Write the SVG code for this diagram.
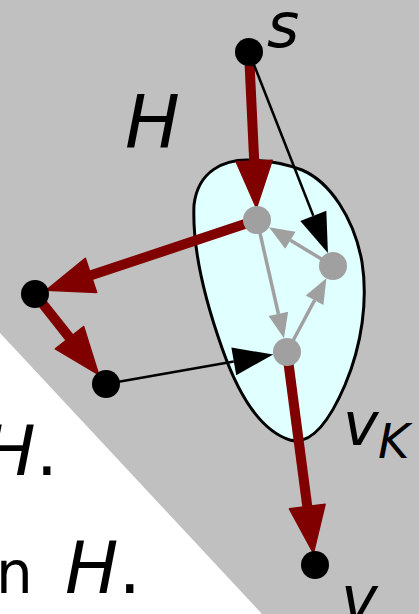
<svg xmlns="http://www.w3.org/2000/svg" width="419" height="614" viewBox="0 0 419 614">
<defs>
<style>
.lbl{font-family:"DejaVu Sans","Liberation Sans",sans-serif;fill:#000}
.it{font-style:oblique}
.red{stroke:#800000;stroke-width:10;fill:none}
.blk{stroke:#000;stroke-width:2.5;fill:none}
.gry{stroke:#a0a0a0;stroke-width:3.5;fill:none}
.node{fill:#000}
.gnode{fill:#a0a0a0}
</style>
<marker id="ar" markerUnits="userSpaceOnUse" markerWidth="50" markerHeight="40" refX="0" refY="18" orient="auto" overflow="visible">
<path d="M0,0 L47,18 L0,36 Z" fill="#800000" stroke="#800000" stroke-width="1.5" stroke-linejoin="round"/>
</marker>
<marker id="ab" markerUnits="userSpaceOnUse" markerWidth="42" markerHeight="30" refX="0" refY="14" orient="auto" overflow="visible">
<path d="M0,0 L40,14 L0,28 Z" fill="#000"/>
</marker>
<marker id="ag" markerUnits="userSpaceOnUse" markerWidth="27" markerHeight="22" refX="0" refY="10" orient="auto" overflow="visible">
<path d="M0,0 L25,10 L0,20 Z" fill="#a0a0a0"/>
</marker>
</defs>
<rect x="0" y="0" width="419" height="614" fill="#c0c0c0"/>
<polygon points="0,333 262,614 0,614" fill="#ffffff"/>
<g id="blob">
<path d="M247,160 C225,160 198,170 194,205 C192,250 205,300 222,348 C236,388 258,430 290,440 C312,446 330,420 345,385 C362,345 368,300 362,262 C354,218 330,182 302,170 C284,163 262,160 247,160 Z" fill="#e0ffff" stroke="#000" stroke-width="3"/>
</g>
<g id="connectors">
<line class="red" x1="249" y1="52" x2="254.2" y2="161" marker-end="url(#ar)"/>
<line class="red" x1="257" y1="220" x2="91" y2="275.3" marker-end="url(#ar)"/>
<line class="red" x1="35" y1="294" x2="69.5" y2="337.7" marker-end="url(#ar)"/>
<line class="red" x1="287" y1="352" x2="307.3" y2="506.5" marker-end="url(#ar)"/>
<line class="blk" x1="249" y1="52" x2="313.3" y2="215.8" marker-end="url(#ab)"/>
<line class="blk" x1="106" y1="384" x2="233.8" y2="361.4" marker-end="url(#ab)"/>
<line class="gry" x1="257" y1="220" x2="278.4" y2="313.9" marker-end="url(#ag)"/>
<line class="gry" x1="287" y1="352" x2="314.6" y2="300.3" marker-end="url(#ag)"/>
<line class="gry" x1="333" y1="266" x2="290.4" y2="240.2" marker-end="url(#ag)"/>
</g>
<g id="node-s"><circle class="node" cx="249" cy="52" r="14"/><text class="lbl it" x="267" y="47" font-size="62">s</text></g>
<g id="node-a"><circle class="node" cx="35" cy="294" r="14"/></g>
<g id="node-b"><circle class="node" cx="106" cy="384" r="14"/></g>
<g id="node-v"><circle class="node" cx="315" cy="565" r="14"/><text class="lbl it" x="341" y="620" font-size="62">v</text></g>
<g id="node-k1"><circle class="gnode" cx="257" cy="220" r="14"/></g>
<g id="node-k2"><circle class="gnode" cx="333" cy="266" r="14"/></g>
<g id="node-k3"><circle class="gnode" cx="287" cy="352" r="14"/></g>
<g id="label-vK"><text class="lbl it" x="343" y="445" font-size="60">v</text><text class="lbl it" x="378" y="458" font-size="48">K</text></g>
<g id="label-H"><text class="lbl it" x="125" y="147" font-size="73">H</text></g>
<text class="lbl" x="58" y="475" font-size="70" text-anchor="end"><tspan class="it">H</tspan>.</text>
<text class="lbl" x="-4" y="593" font-size="58">n</text>
<text class="lbl" x="65" y="593" font-size="71"><tspan class="it">H</tspan>.</text>
</svg>
